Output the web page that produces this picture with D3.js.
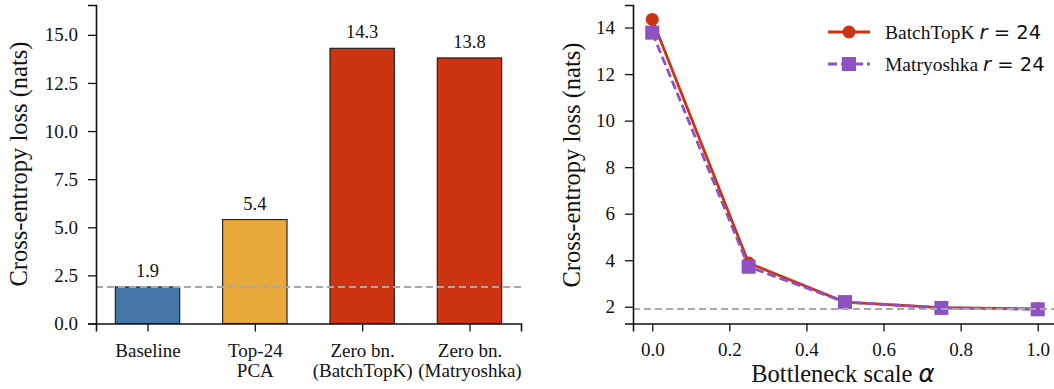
<!DOCTYPE html>
<html>
<head>
<meta charset="utf-8">
<script src="https://cdn.jsdelivr.net/npm/d3@7"></script>
<style>
  body { margin: 0; background: #fff; }
  svg { display: block; }
  text { font-family: "Liberation Serif", "Times New Roman", serif; fill: #111; }
  .math { font-family: "DejaVu Sans", sans-serif; }
</style>
</head>
<body>
<svg id="mainSvg" width="1054" height="389"></svg>
<script>
// data
let barCats = [['Baseline'], ['Top-24', 'PCA'], ['Zero bn.', '(BatchTopK)'], ['Zero bn.', '(Matryoshka)']]
let barVals = [1.9, 5.4, 14.3, 13.8]
let barColors = ['#4576A8', '#E8A83A', '#CC3311', '#CC3311']
let baseline = 1.9

let alphas = [0, 0.25, 0.5, 0.75, 1.0]
let batchTopK = [14.35, 3.88, 2.2, 1.96, 1.91]
let matryoshka = [13.78, 3.72, 2.2, 1.95, 1.89]

let leftTicks = [0, 2.5, 5, 7.5, 10, 12.5, 15]
let rightYTicks = [2, 4, 6, 8, 10, 12, 14]
let rightXTicks = [0, 0.2, 0.4, 0.6, 0.8, 1.0]

let svg = d3.select('#mainSvg')
let plotBottom = 323.5, plotTop = 5
let tickLen = 8

// ---------- left panel ----------
let xL = d3.scaleLinear().domain([-0.48, 3.48]).range([96, 521])
let yL = d3.scaleLinear().domain([0, 16.55]).range([plotBottom, plotTop])
let gL = svg.append('g')

gL.selectAll('rect.bar')
    .data(barVals)
    .enter()
    .append('rect')
    .attr('class', 'bar')
    .attr('x', (d, i) => xL(i - 0.3))
    .attr('width', xL(0.6) - xL(0))
    .attr('y', d => yL(d))
    .attr('height', d => yL(0) - yL(d))
    .attr('fill', (d, i) => barColors[i])
    .attr('stroke', '#1a1a1a')
    .attr('stroke-width', 1.1)

gL.selectAll('text.val')
    .data(barVals)
    .enter()
    .append('text')
    .attr('class', 'val')
    .attr('x', (d, i) => xL(i))
    .attr('y', d => yL(d) - 10)
    .attr('text-anchor', 'middle')
    .attr('font-size', 18.5)
    .text(d => d.toFixed(1))

gL.append('line')
    .attr('x1', xL.range()[0]).attr('x2', xL.range()[1])
    .attr('y1', yL(baseline)).attr('y2', yL(baseline))
    .attr('stroke', '#a8a8a8').attr('stroke-width', 2).attr('stroke-dasharray', '7,4')

gL.append('g').attr('transform', 'translate(96,0)')
    .call(d3.axisLeft(yL).tickValues(leftTicks).tickFormat(d3.format('.1f')).tickSize(tickLen).tickPadding(10))
let xAxisL = gL.append('g').attr('transform', 'translate(0,' + plotBottom + ')')
    .call(d3.axisBottom(xL).tickValues([0, 1, 2, 3]).tickFormat('').tickSize(tickLen))
xAxisL.selectAll('.tick').each(function (d) {
    let t = d3.select(this).append('text').attr('class', 'cat').attr('text-anchor', 'middle')
    barCats[d].forEach((s, k) => {
        t.append('tspan').attr('x', 0).attr('y', 33.5 + k * 20).text(s)
    })
})

gL.append('text')
    .attr('transform', 'translate(27,164) rotate(-90)')
    .attr('text-anchor', 'middle')
    .attr('font-size', 24.5)
    .text('Cross-entropy loss (nats)')

// ---------- right panel ----------
let xR = d3.scaleLinear().domain([-0.05, 1.05]).range([633, 1057])
let yR = d3.scaleLinear().domain([1.28, 14.97]).range([plotBottom, plotTop])
let gR = svg.append('g')

let line = d3.line().x((d, i) => xR(alphas[i])).y(d => yR(d))

gR.append('path').datum(batchTopK)
    .attr('d', line).attr('fill', 'none')
    .attr('stroke', '#CC3311').attr('stroke-width', 2.8)
gR.selectAll('circle.bt')
    .data(batchTopK).enter()
    .append('circle').attr('class', 'bt')
    .attr('cx', (d, i) => xR(alphas[i])).attr('cy', d => yR(d))
    .attr('r', 6.5).attr('fill', '#CC3311')

gR.append('path').datum(matryoshka)
    .attr('d', line).attr('fill', 'none')
    .attr('stroke', '#8E50C2').attr('stroke-width', 2.8).attr('stroke-dasharray', '9,4')
gR.selectAll('rect.mt')
    .data(matryoshka).enter()
    .append('rect').attr('class', 'mt')
    .attr('x', (d, i) => xR(alphas[i]) - 7).attr('y', d => yR(d) - 7)
    .attr('width', 14).attr('height', 14).attr('fill', '#8E50C2')

gR.append('line')
    .attr('x1', 633).attr('x2', xR.range()[1])
    .attr('y1', yR(baseline)).attr('y2', yR(baseline))
    .attr('stroke', '#a8a8a8').attr('stroke-width', 2).attr('stroke-dasharray', '7,4')

gR.append('g').attr('transform', 'translate(633,0)')
    .call(d3.axisLeft(yR).tickValues(rightYTicks).tickFormat(d3.format('d')).tickSize(tickLen).tickPadding(10))
gR.append('g').attr('transform', 'translate(0,' + plotBottom + ')')
    .call(d3.axisBottom(xR).tickValues(rightXTicks).tickFormat(d3.format('.1f')).tickSize(tickLen).tickPadding(11))

gR.append('text')
    .attr('transform', 'translate(580,165) rotate(-90)')
    .attr('text-anchor', 'middle')
    .attr('font-size', 24.5)
    .text('Cross-entropy loss (nats)')

let xl = gR.append('text').attr('x', 843).attr('y', 382).attr('text-anchor', 'middle').attr('font-size', 24.5)
xl.append('tspan').text('Bottleneck scale ')
xl.append('tspan').attr('class', 'math').attr('font-style', 'italic').text('α')

// legend
let legend = [
    { name: 'BatchTopK', color: '#CC3311', dash: null, shape: 'circle', y: 32 },
    { name: 'Matryoshka', color: '#8E50C2', dash: '9,4', shape: 'square', y: 64 }
]
legend.forEach(l => {
    let g = gR.append('g')
    g.append('line').attr('x1', 828).attr('x2', 870).attr('y1', l.y).attr('y2', l.y)
        .attr('stroke', l.color).attr('stroke-width', 2.8).attr('stroke-dasharray', l.dash)
    if (l.shape === 'circle') {
        g.append('circle').attr('cx', 849).attr('cy', l.y).attr('r', 6.5).attr('fill', l.color)
    } else {
        g.append('rect').attr('x', 842).attr('y', l.y - 7).attr('width', 14).attr('height', 14).attr('fill', l.color)
    }
    let t = g.append('text').attr('x', 885).attr('y', l.y).attr('dy', '0.35em').attr('font-size', 19.5)
    t.append('tspan').text(l.name + ' ')
    t.append('tspan').attr('class', 'math').attr('font-style', 'italic').text('r')
    t.append('tspan').attr('class', 'math').text(' = 24')
})

// axis styling
svg.selectAll('.domain').attr('stroke', '#111').attr('stroke-width', 1.6)
svg.selectAll('.tick line').attr('stroke', '#111').attr('stroke-width', 1.3)
svg.selectAll('.tick text').attr('font-size', 19).attr('fill', '#111')
    .attr('font-family', '"Liberation Serif", "Times New Roman", serif')
</script>
</body>
</html>
